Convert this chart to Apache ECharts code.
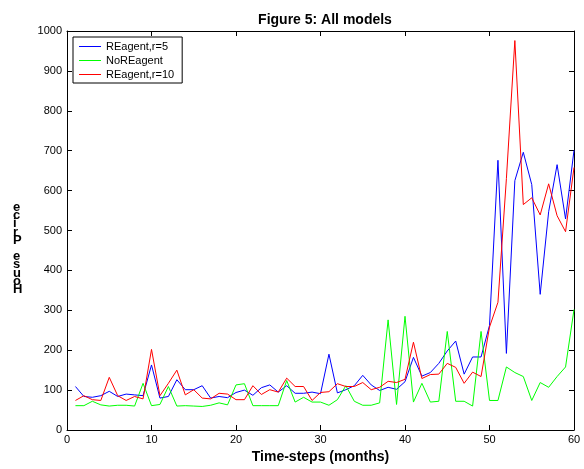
<!DOCTYPE html>
<html>
<head>
<meta charset="utf-8">
<script src="https://cdn.jsdelivr.net/npm/echarts@6/dist/echarts.min.js"></script>
<style>html,body{margin:0;padding:0;background:#fff;}#c{width:584px;height:469px;}</style>
</head>
<body>
<div id="c"></div>
<script>
const steps = [1,2,3,4,5,6,7,8,9,10,11,12,13,14,15,16,17,18,19,20,21,22,23,24,25,26,27,28,29,30,31,32,33,34,35,36,37,38,39,40,41,42,43,44,45,46,47,48,49,50,51,52,53,54,55,56,57,58,59,60];
const reagentR5 = [109,84,82,86,97,84,90,88,86,163,80,84,126,101,101,111,80,84,81,94,100,87,106,113,95,111,92,92,95,91,190,93,101,111,137,113,99,107,102,121,182,135,144,167,198,223,140,183,183,262,676,192,625,696,615,340,547,665,529,701];
const noReagent = [61,61,72,63,60,62,62,60,117,61,64,109,60,61,60,59,62,68,63,113,116,61,61,61,61,124,70,82,70,70,62,76,111,72,62,62,68,276,64,285,70,117,70,72,247,72,72,60,247,74,74,158,144,134,74,119,107,134,158,302];
const reagentR10 = [74,86,76,74,132,86,74,84,78,202,86,117,150,88,101,80,78,92,90,76,76,111,89,101,95,130,109,109,74,94,96,116,109,109,119,101,107,122,119,127,220,129,139,140,167,157,117,145,134,258,320,630,976,565,582,539,617,537,497,658];
const seriesNames = ['REagent,r=5','NoREagent','REagent,r=10'];
const xTicks = [0,10,20,30,40,50,60];
const yTicks = [0,100,200,300,400,500,600,700,800,900,1000];

const pair = arr => steps.map((s,i)=>[s, arr[i]]);
const font = 'Liberation Sans, Arial, sans-serif';
const chart = echarts.init(document.getElementById('c'));
const axisCommon = {
  axisLine:{show:true, onZero:false, lineStyle:{color:'#000', width:1}},
  axisTick:{show:true, inside:true, length:5, lineStyle:{color:'#000'}},
  splitLine:{show:false}
};
chart.setOption({
  animation:false,
  backgroundColor:'#fff',
  title:{text:'Figure 5: All models', left:320, top:8, textAlign:'center',
    textStyle:{fontFamily:font, fontSize:14, fontWeight:'bold', color:'#000'}},
  grid:{left:67, right:10, top:31, bottom:35},
  legend:{
    data:seriesNames, orient:'vertical', left:73, top:37,
    backgroundColor:'#fff', borderColor:'#000', borderWidth:1,
    padding:[4,8,3,6], itemGap:3, itemWidth:22, itemHeight:1,
    icon:'rect',
    textStyle:{fontFamily:font, fontSize:11, color:'#000'}
  },
  xAxis:[
    Object.assign({type:'value', min:0, max:60, interval:10, position:'bottom',
      name:'Time-steps (months)', nameLocation:'middle', nameGap:20,
      nameTextStyle:{fontFamily:font, fontSize:14, fontWeight:'bold', color:'#000'},
      axisLabel:{fontFamily:font, fontSize:11, color:'#000', margin:4,
        formatter: v => xTicks.includes(v) ? String(v) : ''}}, axisCommon),
    Object.assign({type:'value', min:0, max:60, interval:10, position:'top',
      axisLabel:{show:false}}, axisCommon)
  ],
  yAxis:[
    Object.assign({type:'value', min:0, max:1000, interval:100, position:'left',
      axisLabel:{fontFamily:font, fontSize:11, color:'#000', margin:5,
        formatter: v => yTicks.includes(v) ? String(v) : ''}}, axisCommon),
    Object.assign({type:'value', min:0, max:1000, interval:100, position:'right',
      axisLabel:{show:false}}, axisCommon)
  ],
  graphic:[{
    type:'text', left:13, top:201,
    style:{text:'e\nc\ni\nr\nP\n\ne\ns\nu\no\nH', fontFamily:font, fontSize:13, fontWeight:'bold',
      lineHeight:8.2, fill:'#000', align:'center'}
  }],
  series:[
    {name:seriesNames[0], type:'line', data:pair(reagentR5), showSymbol:false, symbol:'none',
      lineStyle:{color:'#0000ff', width:1}, itemStyle:{color:'#0000ff'}},
    {name:seriesNames[1], type:'line', data:pair(noReagent), showSymbol:false, symbol:'none',
      lineStyle:{color:'#00ff00', width:1}, itemStyle:{color:'#00ff00'}},
    {name:seriesNames[2], type:'line', data:pair(reagentR10), showSymbol:false, symbol:'none',
      lineStyle:{color:'#ff0000', width:1}, itemStyle:{color:'#ff0000'}}
  ]
});
</script>
</body>
</html>
